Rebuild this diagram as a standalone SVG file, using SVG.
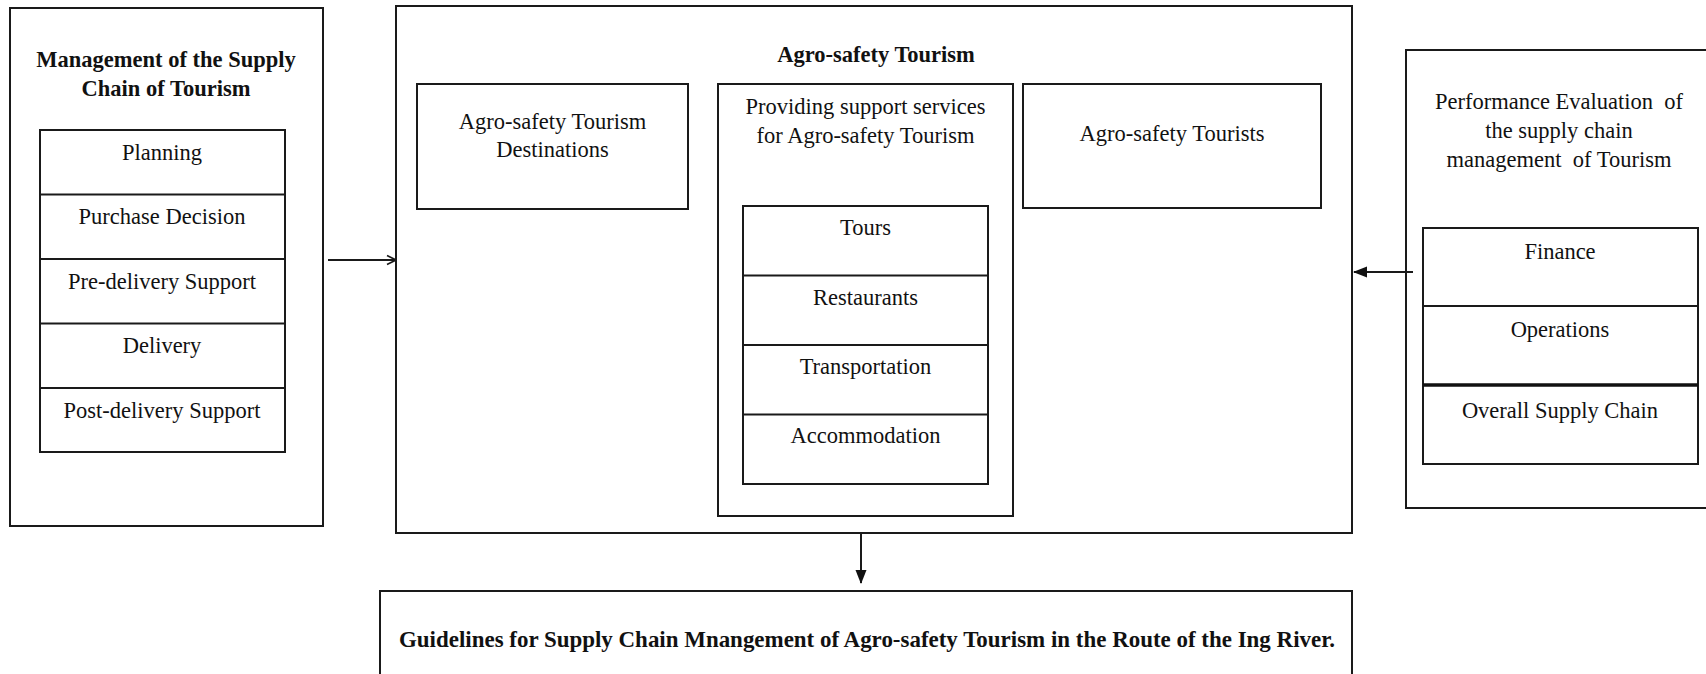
<svg xmlns="http://www.w3.org/2000/svg" width="1706" height="674" viewBox="0 0 1706 674">
  <style>
    .box { fill: #ffffff; stroke: #1a1a1a; stroke-width: 2; }
    .div { stroke: #1a1a1a; stroke-width: 2; }
    .divb { stroke: #111111; stroke-width: 3.5; }
    .t { font-family: "Liberation Serif", "Times New Roman", serif; font-size: 22.5px; fill: #111111; text-anchor: middle; }
    .tb { font-family: "Liberation Serif", "Times New Roman", serif; font-size: 22.5px; font-weight: bold; fill: #111111; text-anchor: middle; }
    .conn { stroke: #1a1a1a; stroke-width: 2; fill: none; }
  </style>
  <defs>
    <marker id="openHead" viewBox="0 0 12 12" refX="11" refY="6" markerWidth="12" markerHeight="12" markerUnits="userSpaceOnUse" orient="auto">
      <path d="M2,1.5 L11,6 L2,10.5" fill="none" stroke="#1a1a1a" stroke-width="1.6"/>
    </marker>
    <marker id="solidHead" viewBox="0 0 14 12" refX="13" refY="6" markerWidth="14" markerHeight="12" markerUnits="userSpaceOnUse" orient="auto">
      <path d="M0,0.5 L14,6 L0,11.5 Z" fill="#111111"/>
    </marker>
  </defs>

  <rect width="1706" height="674" fill="#ffffff"/>

  <!-- Left: supply chain management stages -->
  <g id="management">
    <rect class="box" x="10" y="8" width="313" height="518"/>
    <text class="tb" x="166" y="67" font-size="23">Management of the Supply</text>
    <text class="tb" x="166" y="96" font-size="23">Chain of Tourism</text>
    <rect class="box" x="40" y="130" width="245" height="322"/>
    <line class="div" x1="40" y1="194.5" x2="285" y2="194.5"/>
    <line class="div" x1="40" y1="259" x2="285" y2="259"/>
    <line class="div" x1="40" y1="323.5" x2="285" y2="323.5"/>
    <line class="div" x1="40" y1="388" x2="285" y2="388"/>
    <text class="t" x="162" y="160">Planning</text>
    <text class="t" x="162" y="224">Purchase Decision</text>
    <text class="t" x="162" y="289">Pre-delivery Support</text>
    <text class="t" x="162" y="353">Delivery</text>
    <text class="t" x="162" y="418">Post-delivery Support</text>
  </g>

  <!-- Centre: agro-safety tourism -->
  <g id="agro-safety-tourism">
    <rect class="box" x="396" y="6" width="956" height="527"/>
    <text class="tb" x="876" y="62">Agro-safety Tourism</text>
  </g>

  <g id="destinations">
    <rect class="box" x="417" y="84" width="271" height="125"/>
    <text class="t" x="552.5" y="129">Agro-safety Tourism</text>
    <text class="t" x="552.5" y="157">Destinations</text>
  </g>

  <g id="support-services">
    <rect class="box" x="718" y="84" width="295" height="432"/>
    <text class="t" x="865.5" y="114">Providing support services</text>
    <text class="t" x="865.5" y="143">for Agro-safety Tourism</text>
    <rect class="box" x="743" y="206" width="245" height="278"/>
    <line class="div" x1="743" y1="275.5" x2="988" y2="275.5"/>
    <line class="div" x1="743" y1="345" x2="988" y2="345"/>
    <line class="div" x1="743" y1="414.5" x2="988" y2="414.5"/>
    <text class="t" x="865.5" y="235">Tours</text>
    <text class="t" x="865.5" y="305">Restaurants</text>
    <text class="t" x="865.5" y="374">Transportation</text>
    <text class="t" x="865.5" y="443">Accommodation</text>
  </g>

  <g id="tourists">
    <rect class="box" x="1023" y="84" width="298" height="124"/>
    <text class="t" x="1172" y="141">Agro-safety Tourists</text>
  </g>

  <!-- Right: performance evaluation -->
  <g id="performance-evaluation">
    <rect class="box" x="1406" y="50" width="310" height="458"/>
    <text class="t" x="1559" y="109" xml:space="preserve">Performance Evaluation  of</text>
    <text class="t" x="1559" y="138">the supply chain</text>
    <text class="t" x="1559" y="167" xml:space="preserve">management  of Tourism</text>
    <rect class="box" x="1423" y="228" width="275" height="236"/>
    <line class="div" x1="1423" y1="306" x2="1698" y2="306"/>
    <line class="divb" x1="1423" y1="385" x2="1698" y2="385"/>
    <text class="t" x="1560" y="259">Finance</text>
    <text class="t" x="1560" y="337">Operations</text>
    <text class="t" x="1560" y="418">Overall Supply Chain</text>
  </g>

  <!-- Bottom: guidelines -->
  <g id="guidelines">
    <rect class="box" x="380" y="591" width="972" height="100"/>
    <text class="tb" x="867" y="647" font-size="23" textLength="936" lengthAdjust="spacingAndGlyphs">Guidelines for Supply Chain Mnangement of Agro-safety Tourism in the Route of the Ing River.</text>
  </g>

  <g id="connectors">
    <line class="conn" x1="328" y1="260" x2="396" y2="260" marker-end="url(#openHead)"/>
    <line class="conn" x1="1413" y1="272" x2="1354" y2="272" marker-end="url(#solidHead)"/>
    <line class="conn" x1="861" y1="533" x2="861" y2="583" marker-end="url(#solidHead)"/>
  </g>
</svg>
